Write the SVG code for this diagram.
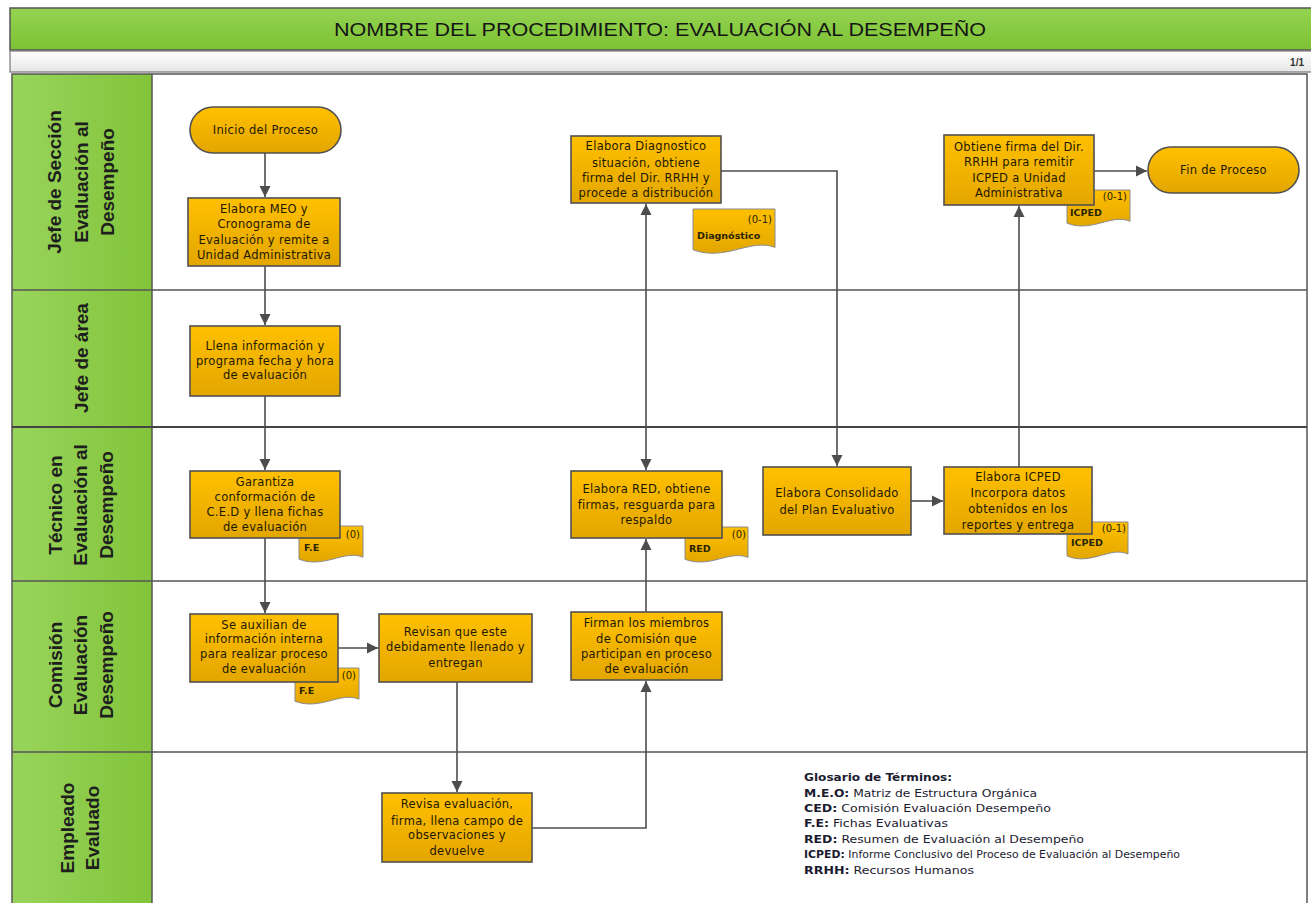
<svg xmlns="http://www.w3.org/2000/svg" width="1311" height="903" viewBox="0 0 1311 903">
<defs>
<linearGradient id="gold" x1="0" y1="0" x2="0" y2="1"><stop offset="0" stop-color="#FFC000"/><stop offset="1" stop-color="#E3A600"/></linearGradient>
<linearGradient id="hdr" x1="0" y1="0" x2="0" y2="1"><stop offset="0" stop-color="#94D352"/><stop offset="1" stop-color="#7DC234"/></linearGradient>
<linearGradient id="lab" x1="0" y1="0" x2="1" y2="0"><stop offset="0" stop-color="#98D45C"/><stop offset="1" stop-color="#82C43A"/></linearGradient>
<linearGradient id="bar" x1="0" y1="0" x2="0" y2="1"><stop offset="0" stop-color="#FFFFFF"/><stop offset="1" stop-color="#E6E6E6"/></linearGradient>
<marker id="ah" markerUnits="userSpaceOnUse" markerWidth="12" markerHeight="12" refX="11" refY="6" orient="auto-start-reverse"><path d="M0,0.5 L11,6 L0,11.5 Z" fill="#4d4d4d"/></marker>
</defs>
<style>
.box{fill:url(#gold);stroke:#505050;stroke-width:1.6}
.doc{fill:url(#gold);stroke:#8a8a8a;stroke-width:1}
.t{font-family:"DejaVu Sans",Verdana,sans-serif;font-size:11.5px;fill:#1e1800;text-anchor:middle;letter-spacing:0.3px}
.dn{font-family:"DejaVu Sans",Verdana,sans-serif;font-size:9.5px;font-weight:bold;fill:#2a2400}
.dc{font-family:"DejaVu Sans",Verdana,sans-serif;font-size:10px;fill:#2a2400;text-anchor:end}
.ln{font-family:"Liberation Sans",Arial,sans-serif;font-size:19px;font-weight:bold;fill:#1e1e1e;text-anchor:middle}
.lane{stroke:#555;stroke-width:1.5;fill:none}
.conn path{stroke:#4d4d4d;stroke-width:1.6;fill:none}
.g{font-family:"DejaVu Sans",Verdana,sans-serif;font-size:10.5px;fill:#1b1b30}
.gb{font-weight:bold}
</style>
<rect x="0" y="0" width="1311" height="903" fill="#ffffff"/>
<g id="header">
<rect x="10" y="8" width="1302" height="42" fill="url(#hdr)" stroke="#555" stroke-width="1.5"/>
<text x="660" y="36" font-family="Liberation Sans, Arial, sans-serif" font-size="19" fill="#151515" text-anchor="middle" textLength="652" lengthAdjust="spacingAndGlyphs">NOMBRE DEL PROCEDIMIENTO: EVALUACIÓN AL DESEMPEÑO</text>
<rect x="10" y="51" width="1302" height="21" fill="url(#bar)" stroke="#777" stroke-width="1.2"/>
<text x="1304" y="66" font-family="Liberation Sans, Arial, sans-serif" font-size="10" font-weight="bold" fill="#333" text-anchor="end">1/1</text>
</g>
<g id="lanes">
<rect x="12" y="74" width="140" height="216" fill="url(#lab)"/>
<rect x="12" y="290" width="140" height="137" fill="url(#lab)"/>
<rect x="12" y="427" width="140" height="154" fill="url(#lab)"/>
<rect x="12" y="581" width="140" height="171" fill="url(#lab)"/>
<rect x="12" y="752" width="140" height="160" fill="url(#lab)"/>
<rect x="12" y="74" width="1295" height="840" class="lane"/>
<line x1="152" y1="74" x2="152" y2="903" class="lane"/>
<line x1="12" y1="290" x2="1307" y2="290" class="lane"/>
<line x1="12" y1="427" x2="1307" y2="427" stroke="#444" stroke-width="2.2"/>
<line x1="12" y1="581" x2="1307" y2="581" class="lane"/>
<line x1="12" y1="752" x2="1307" y2="752" class="lane"/>
<text class="ln" transform="translate(54,182) rotate(-90)" y="7">Jefe de Sección</text>
<text class="ln" transform="translate(81,182) rotate(-90)" y="7">Evaluación al</text>
<text class="ln" transform="translate(107,182) rotate(-90)" y="7">Desempeño</text>
<text class="ln" transform="translate(81,358) rotate(-90)" y="7">Jefe de área</text>
<text class="ln" transform="translate(55,505) rotate(-90)" y="7">Técnico en</text>
<text class="ln" transform="translate(80,505) rotate(-90)" y="7">Evaluación al</text>
<text class="ln" transform="translate(106,505) rotate(-90)" y="7">Desempeño</text>
<text class="ln" transform="translate(55,665) rotate(-90)" y="7">Comisión</text>
<text class="ln" transform="translate(80,665) rotate(-90)" y="7">Evaluación</text>
<text class="ln" transform="translate(106,665) rotate(-90)" y="7">Desempeño</text>
<text class="ln" transform="translate(67,828) rotate(-90)" y="7">Empleado</text>
<text class="ln" transform="translate(92,828) rotate(-90)" y="7">Evaluado</text>
</g>
<g id="connectors" class="conn">
<path d="M265,153 V197" marker-end="url(#ah)"/>
<path d="M265,266 V325" marker-end="url(#ah)"/>
<path d="M265,396 V470" marker-end="url(#ah)"/>
<path d="M265,538 V613" marker-end="url(#ah)"/>
<path d="M338,648 H378" marker-end="url(#ah)"/>
<path d="M457,682 V792" marker-end="url(#ah)"/>
<path d="M532,828 H646 V681" marker-end="url(#ah)"/>
<path d="M646,612 V539" marker-end="url(#ah)"/>
<path d="M646,204 V470" marker-start="url(#ah)" marker-end="url(#ah)"/>
<path d="M721,171 H837 V466" marker-end="url(#ah)"/>
<path d="M911,501 H943" marker-end="url(#ah)"/>
<path d="M1019,467 V206" marker-end="url(#ah)"/>
<path d="M1094,171 H1147" marker-end="url(#ah)"/>
</g>
<g id="n-inicio"><rect class="box" x="190" y="107" width="151" height="46" rx="23"/><text class="t" x="265.5" y="134">Inicio del Proceso</text></g>
<g id="n-meo"><rect class="box" x="188" y="198" width="152" height="68"/>
<text class="t" x="264" y="213">Elabora MEO y</text><text class="t" x="264" y="228">Cronograma de</text><text class="t" x="264" y="244">Evaluación y remite a</text><text class="t" x="264" y="259">Unidad Administrativa</text></g>
<g id="n-llena"><rect class="box" x="190" y="326" width="150" height="70"/>
<text class="t" x="265" y="350">Llena información y</text><text class="t" x="265" y="365">programa fecha y hora</text><text class="t" x="265" y="379">de evaluación</text></g>
<g id="d-fe1"><path class="doc" d="M299,526 H363 V557.2 C343.8,549.4 324.6,568.9 299,559.2 Z"/><text class="dc" x="360" y="538">(0)</text><text class="dn" x="304" y="551">F.E</text></g>
<g id="n-garantiza"><rect class="box" x="190" y="471" width="150" height="67"/>
<text class="t" x="265" y="486">Garantiza</text><text class="t" x="265" y="501">conformación de</text><text class="t" x="265" y="516">C.E.D y llena fichas</text><text class="t" x="265" y="531">de evaluación</text></g>
<g id="d-fe2"><path class="doc" d="M295,668 H359 V699.2 C339.8,691.4 320.6,710.9 295,701.2 Z"/><text class="dc" x="356" y="679">(0)</text><text class="dn" x="299" y="694">F.E</text></g>
<g id="n-auxilian"><rect class="box" x="190" y="614" width="148" height="68"/>
<text class="t" x="264" y="629">Se auxilian de</text><text class="t" x="264" y="643">información interna</text><text class="t" x="264" y="658">para realizar proceso</text><text class="t" x="264" y="673">de evaluación</text></g>
<g id="n-revisan"><rect class="box" x="379" y="614" width="153" height="68"/>
<text class="t" x="455.5" y="636">Revisan que este</text><text class="t" x="455.5" y="651">debidamente llenado y</text><text class="t" x="455.5" y="667">entregan</text></g>
<g id="n-revisa"><rect class="box" x="382" y="793" width="150" height="69"/>
<text class="t" x="457" y="808">Revisa evaluación,</text><text class="t" x="457" y="825">firma, llena campo de</text><text class="t" x="457" y="839">observaciones y</text><text class="t" x="457" y="855">devuelve</text></g>
<g id="n-firman"><rect class="box" x="571" y="612" width="151" height="68"/>
<text class="t" x="646.5" y="627">Firman los miembros</text><text class="t" x="646.5" y="643">de Comisión que</text><text class="t" x="646.5" y="658">participan en proceso</text><text class="t" x="646.5" y="673">de evaluación</text></g>
<g id="d-red"><path class="doc" d="M685,527 H748 V557.4 C729.1,549.8 710.2,568.8 685,559.3 Z"/><text class="dc" x="746" y="538">(0)</text><text class="dn" x="689" y="552">RED</text></g>
<g id="n-red"><rect class="box" x="571" y="471" width="151" height="67"/>
<text class="t" x="646.5" y="493">Elabora RED, obtiene</text><text class="t" x="646.5" y="509">firmas, resguarda para</text><text class="t" x="646.5" y="524">respaldo</text></g>
<g id="n-consolidado"><rect class="box" x="763" y="467" width="148" height="68"/>
<text class="t" x="837" y="497">Elabora Consolidado</text><text class="t" x="837" y="514">del Plan Evaluativo</text></g>
<g id="d-icped2"><path class="doc" d="M1067,522 H1128 V554 C1109.7,546 1091.4,566 1067,556 Z"/><text class="dc" x="1126" y="532">(0-1)</text><text class="dn" x="1071" y="546">ICPED</text></g>
<g id="n-icped"><rect class="box" x="944" y="467" width="148" height="67"/>
<text class="t" x="1018" y="481">Elabora ICPED</text><text class="t" x="1018" y="497">Incorpora datos</text><text class="t" x="1018" y="513">obtenidos en los</text><text class="t" x="1018" y="529">reportes y entrega</text></g>
<g id="d-diag"><path class="doc" d="M693,209 H775 V247.4 C750.4,237.8 725.8,261.8 693,249.8 Z"/><text class="dc" x="772" y="223">(0-1)</text><text class="dn" x="697" y="239">Diagnóstico</text></g>
<g id="n-diag"><rect class="box" x="571" y="136" width="150" height="67"/>
<text class="t" x="646" y="150">Elabora Diagnostico</text><text class="t" x="646" y="167">situación, obtiene</text><text class="t" x="646" y="182">firma del Dir. RRHH y</text><text class="t" x="646" y="197">procede a distribución</text></g>
<g id="d-icped1"><path class="doc" d="M1067,190 H1130 V221.2 C1111.1,213.4 1092.2,232.9 1067,223.2 Z"/><text class="dc" x="1127" y="200">(0-1)</text><text class="dn" x="1070" y="216">ICPED</text></g>
<g id="n-obtiene"><rect class="box" x="944" y="135" width="150" height="70"/>
<text class="t" x="1019" y="151">Obtiene firma del Dir.</text><text class="t" x="1019" y="166">RRHH para remitir</text><text class="t" x="1019" y="182">ICPED a Unidad</text><text class="t" x="1019" y="197">Administrativa</text></g>
<g id="n-fin"><rect class="box" x="1148" y="147" width="151" height="46" rx="23"/><text class="t" x="1223.5" y="174">Fin de Proceso</text></g>
<g id="glosario">
<text class="g gb" x="804" y="781" textLength="148" lengthAdjust="spacingAndGlyphs">Glosario de Términos:</text>
<text class="g" x="804" y="797" textLength="233" lengthAdjust="spacingAndGlyphs"><tspan class="gb">M.E.O:</tspan> Matriz de Estructura Orgánica</text>
<text class="g" x="804" y="812" textLength="247" lengthAdjust="spacingAndGlyphs"><tspan class="gb">CED:</tspan> Comisión Evaluación Desempeño</text>
<text class="g" x="804" y="827" textLength="144" lengthAdjust="spacingAndGlyphs"><tspan class="gb">F.E:</tspan> Fichas Evaluativas</text>
<text class="g" x="804" y="843" textLength="280" lengthAdjust="spacingAndGlyphs"><tspan class="gb">RED:</tspan> Resumen de Evaluación al Desempeño</text>
<text class="g" x="804" y="858" font-size="9.5" fill="#2b2b5a" textLength="376" lengthAdjust="spacingAndGlyphs"><tspan class="gb">ICPED:</tspan> Informe Conclusivo del Proceso de Evaluación al Desempeño</text>
<text class="g" x="804" y="874" textLength="170" lengthAdjust="spacingAndGlyphs"><tspan class="gb">RRHH:</tspan> Recursos Humanos</text>
</g>
</svg>
